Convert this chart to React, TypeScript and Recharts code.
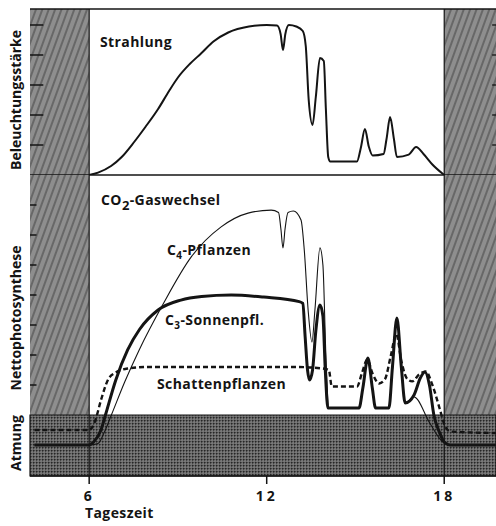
import { ComposedChart, Line, XAxis, YAxis, ReferenceArea, ReferenceLine } from "recharts";

const W = 496;
const H = 526;
const X_DOMAIN: [number, number] = [4, 19.75];

// Strahlung (relative Beleuchtungsstärke)
const strahlungHours = [6, 6.3, 6.74, 7.1, 7.52, 7.9, 8.33, 8.7, 9.0, 9.4, 9.78, 10.2, 10.7, 11.4, 12.0, 12.35, 12.47, 12.55, 12.63, 12.75, 13.0, 13.22, 13.32, 13.42, 13.55, 13.66, 13.8, 13.93, 14.0, 14.08, 14.15, 15.05, 15.18, 15.32, 15.45, 15.58, 15.95, 16.05, 16.17, 16.3, 16.4, 16.8, 17.05, 17.3, 17.6, 18];
const strahlungValues = [0, 0.08, 0.3, 0.6, 1.1, 1.6, 2.2, 2.8, 3.25, 3.7, 4.05, 4.45, 4.75, 4.95, 5.0, 4.98, 4.7, 4.17, 4.7, 5.0, 4.95, 4.8, 4.3, 2.5, 1.67, 2.6, 3.9, 3.8, 2.2, 0.6, 0.45, 0.45, 0.9, 1.53, 0.95, 0.65, 0.7, 1.2, 1.93, 1.2, 0.6, 0.68, 0.93, 0.7, 0.35, 0];

// CO2-Gaswechsel, C4-Pflanzen
const c4Hours = [4.15, 6, 6.3, 6.5, 6.75, 7.2, 7.69, 8.5, 9.45, 10.46, 11.37, 12.15, 12.4, 12.48, 12.55, 12.62, 12.72, 12.9, 13.16, 13.27, 13.4, 13.53, 13.63, 13.8, 13.9, 14.0, 14.1, 15.12, 15.25, 15.42, 15.57, 15.68, 16.13, 16.25, 16.4, 16.55, 16.68, 16.98, 17.5, 17.9, 18.2, 19.75];
const c4Values = [-1, -1, -0.95, -0.6, 0, 1.1, 2.17, 3.7, 5.27, 6.27, 6.73, 6.83, 6.75, 6.2, 5.57, 6.2, 6.75, 6.8, 6.5, 5.5, 3.5, 2.43, 3.5, 5.57, 5.0, 2.0, 0.25, 0.25, 0.9, 1.9, 0.9, 0.25, 0.25, 1.5, 3.23, 1.5, 0.4, 0.6, -0.25, -0.85, -1, -1];

// C3-Sonnenpflanzen
const c3Hours = [4.15, 6, 6.15, 6.4, 6.55, 6.9, 7.3, 7.7, 8.33, 9.1, 9.8, 10.8, 11.9, 13.1, 13.22, 13.3, 13.38, 13.45, 13.55, 13.66, 13.8, 13.9, 13.98, 14.07, 15.12, 15.25, 15.42, 15.57, 15.68, 16.13, 16.25, 16.4, 16.55, 16.68, 16.98, 17.2, 17.35, 17.5, 17.65, 17.85, 18.0, 18.2, 19.75];
const c3Values = [-1, -1, -0.9, -0.5, 0, 1.17, 2.17, 2.85, 3.5, 3.83, 3.95, 4.0, 3.93, 3.78, 3.72, 2.6, 1.5, 1.17, 1.5, 2.8, 3.67, 3.3, 1.5, 0.23, 0.23, 0.9, 1.9, 0.9, 0.23, 0.23, 1.6, 3.23, 1.6, 0.4, 0.67, 1.25, 1.43, 1.0, 0, -0.6, -0.9, -1, -1];

// Schattenpflanzen
const schattenHours = [4.15, 6, 6.2, 6.4, 6.65, 6.9, 7.3, 8, 13, 13.9, 14.1, 14.2, 15.05, 15.22, 15.4, 15.57, 15.8, 16.0, 16.2, 16.38, 16.55, 16.75, 16.92, 17.15, 17.38, 17.6, 17.85, 18.0, 18.2, 19.75];
const schattenValues = [-0.5, -0.5, -0.2, 0.5, 1.2, 1.42, 1.55, 1.6, 1.6, 1.55, 1.5, 0.95, 0.95, 1.4, 1.85, 1.4, 1.05, 1.2, 2.0, 2.7, 1.8, 1.2, 1.12, 1.35, 1.45, 1.0, 0.2, -0.3, -0.55, -0.6];

const xTicks = [6, 12, 18];
const topTicks = [1, 2, 3, 4, 5];
const bottomTicks = [1, 2, 3, 4, 5, 6, 7];

const zip = (hours: number[], values: number[]) => hours.map((x, i) => ({ x, y: values[i] }));

const font = "'Open Sans', 'DejaVu Sans', sans-serif";
const ink = "#141414";
const labelStyle = { fontFamily: font, fontSize: 14, fontWeight: 700, fill: ink, letterSpacing: 0.4 };

// tick marks inside the night hatching (drawn above it)
const tickMarks = (ticks: number[], from: number, to: number, width: number) =>
  ticks.map((t) => (
    <ReferenceLine key={`${from}-${t}`} segment={[{ x: from, y: t }, { x: to, y: t }]}
      stroke={ink} strokeWidth={width} ifOverflow="visible" />
  ));

export default function App() {
  return (
    <div style={{ position: "absolute", left: 0, top: 0, width: W, height: H, background: "#fff" }}>
      <svg width={0} height={0} style={{ position: "absolute" }}>
        <defs>
          <pattern id="hatch" patternUnits="userSpaceOnUse" width={6} height={6} patternTransform="rotate(20)">
            <rect width={6} height={6} fill="#8e8e8e" />
            <line x1={1} y1={0} x2={1} y2={6} stroke="#2c2c2c" strokeWidth={0.8} />
          </pattern>
          <pattern id="stipple" patternUnits="userSpaceOnUse" width={3} height={3}>
            <rect width={3} height={3} fill="#666" />
            <rect x={0} y={0} width={1.5} height={1.5} fill="#262626" />
            <rect x={1.5} y={1.5} width={1} height={1} fill="#b0b0b0" />
          </pattern>
        </defs>
      </svg>

      {/* Strahlung */}
      <div style={{ position: "absolute", left: 0, top: 0 }}>
        <ComposedChart width={W} height={176} margin={{ top: 9, right: 0, bottom: 1, left: 30 }}>
          <XAxis type="number" dataKey="x" domain={X_DOMAIN} hide allowDataOverflow />
          <YAxis domain={[0, 5.533]} ticks={topTicks} width={0} mirror tick={false} tickLine={false}
            axisLine={{ stroke: ink, strokeWidth: 1.5 }} allowDataOverflow />
          <ReferenceArea x1={4} x2={6} y1={0} y2={5.533} fill="url(#hatch)" fillOpacity={1} />
          <ReferenceArea x1={18} x2={19.75} y1={0} y2={5.533} fill="url(#hatch)" fillOpacity={1} />
          {tickMarks(topTicks, 4, 4.45, 1.5)}
          {tickMarks(topTicks, 19.62, 19.75, 1.3)}
          <ReferenceLine y={5.533} stroke={ink} strokeWidth={1.5} />
          <ReferenceLine y={0} stroke={ink} strokeWidth={1.5} />
          <ReferenceLine x={6} stroke={ink} strokeWidth={1.2} />
          <ReferenceLine x={18} stroke={ink} strokeWidth={1.2} />
          <Line data={zip(strahlungHours, strahlungValues)} dataKey="y" type="monotone" stroke={ink}
            strokeWidth={2} dot={false} isAnimationActive={false} />
        </ComposedChart>
      </div>

      {/* CO2-Gaswechsel */}
      <div style={{ position: "absolute", left: 0, top: 0 }}>
        <ComposedChart width={W} height={H} margin={{ top: 175, right: 0, bottom: 0, left: 30 }}>
          <XAxis type="number" dataKey="x" domain={X_DOMAIN} ticks={xTicks} height={50} tickSize={8} tickMargin={7}
            axisLine={{ stroke: ink, strokeWidth: 1.5 }} tickLine={{ stroke: ink, strokeWidth: 1.5 }}
            tick={{ fill: ink, fontSize: 14, fontWeight: 700, fontFamily: font, letterSpacing: 3 }} allowDataOverflow />
          <YAxis domain={[-2.033, 8]} ticks={bottomTicks} width={0} mirror tick={false} tickLine={false}
            axisLine={{ stroke: ink, strokeWidth: 1.5 }} allowDataOverflow />
          <ReferenceArea x1={4} x2={6} y1={0} y2={8} fill="url(#hatch)" fillOpacity={1} />
          <ReferenceArea x1={18} x2={19.75} y1={0} y2={8} fill="url(#hatch)" fillOpacity={1} />
          <ReferenceArea x1={4} x2={19.75} y1={-2.033} y2={0} fill="url(#stipple)" fillOpacity={1}
            stroke={ink} strokeWidth={1.2} />
          {tickMarks(bottomTicks, 4, 4.22, 1.5)}
          <ReferenceLine x={6} stroke={ink} strokeWidth={1.2} />
          <ReferenceLine x={18} stroke={ink} strokeWidth={1.2} />
          <Line data={zip(c4Hours, c4Values)} dataKey="y" type="monotone" stroke={ink}
            strokeWidth={1.1} dot={false} isAnimationActive={false} />
          <Line data={zip(schattenHours, schattenValues)} dataKey="y" type="monotone" stroke={ink}
            strokeWidth={2.4} strokeDasharray="5 3" dot={false} isAnimationActive={false} />
          <Line data={zip(c3Hours, c3Values)} dataKey="y" type="monotone" stroke={ink}
            strokeWidth={3} dot={false} isAnimationActive={false} />
        </ComposedChart>
      </div>

      <svg width={W} height={H} style={{ position: "absolute", left: 0, top: 0, pointerEvents: "none" }}>
        <text x={100} y={47} {...labelStyle}>Strahlung</text>
        <text x={101} y={205} {...labelStyle}>
          CO<tspan fontSize={13} dy={5}>2</tspan><tspan dy={-5}>-Gaswechsel</tspan>
        </text>
        <text x={167} y={255} {...labelStyle}>
          C<tspan fontSize={10} dy={4}>4</tspan><tspan dy={-4}>-Pflanzen</tspan>
        </text>
        <text x={165} y={325} {...labelStyle}>
          C<tspan fontSize={10} dy={4}>3</tspan><tspan dy={-4}>-Sonnenpfl.</tspan>
        </text>
        <text x={157} y={389} {...labelStyle}>Schattenpflanzen</text>
        <text x={85} y={518} {...labelStyle}>Tageszeit</text>
        <text transform="translate(15,100) rotate(-90)" textAnchor="middle" dominantBaseline="central"
          {...labelStyle} letterSpacing={0}>Beleuchtungsstärke</text>
        <text transform="translate(15,318) rotate(-90)" textAnchor="middle" dominantBaseline="central"
          {...labelStyle} letterSpacing={0}>Nettophotosynthese</text>
        <text transform="translate(15,443) rotate(-90)" textAnchor="middle" dominantBaseline="central"
          {...labelStyle} letterSpacing={0}>Atmung</text>
      </svg>
    </div>
  );
}
